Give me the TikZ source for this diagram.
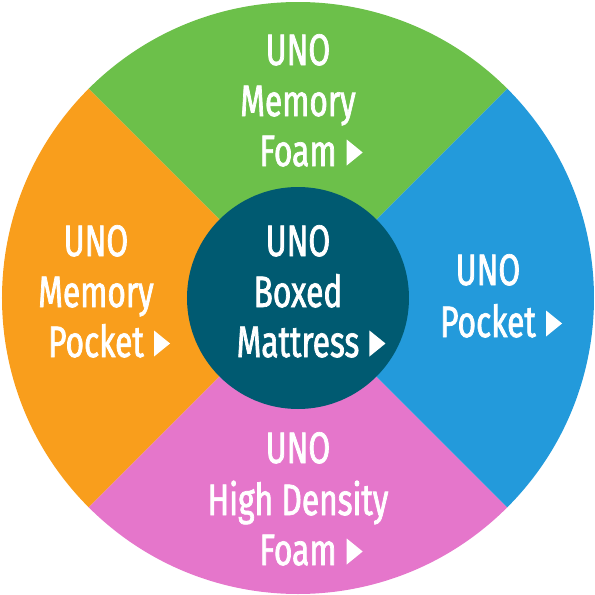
\documentclass[tikz,border=0pt]{standalone}
\usepackage{fontspec}
\setmainfont[FakeStretch=0.72,FakeBold=1.6]{Fira Sans}
\definecolor{cgreen}{HTML}{6CC04A}
\definecolor{corange}{HTML}{F99E1C}
\definecolor{cblue}{HTML}{239ADB}
\definecolor{cpink}{HTML}{E576CB}
\definecolor{cteal}{HTML}{005A71}
\tikzset{
  lbl/.style={anchor=base,inner sep=0pt,text=white,font=\fontsize{44}{50}\selectfont},
  tri/.style={fill=white},
}
\newcommand{\arrowtri}[1]{\fill[tri] ([xshift=10pt,yshift=0.5pt]#1.base east) -- ++(0,26) -- ++(16,-13) -- cycle;}
\begin{document}
\begin{tikzpicture}[x=1pt,y=1pt]
\useasboundingbox (-298,-297) rectangle (297,298);
\coordinate (c) at (0,0);
\fill[cgreen]  (c) -- (45:296) arc[start angle=45,end angle=135,radius=296] -- cycle;
\fill[corange] (c) -- (135:296) arc[start angle=135,end angle=225,radius=296] -- cycle;
\fill[cpink]   (c) -- (225:296) arc[start angle=225,end angle=315,radius=296] -- cycle;
\fill[cblue]   (c) -- (-45:296) arc[start angle=-45,end angle=45,radius=296] -- cycle;
\fill[cteal] (c) circle[radius=111];
% green
\node[lbl] (g1) at (0,233) {UNO};
\node[lbl] (g2) at (0,182) {Memory};
\node[lbl] (g3) at (0,132) {Foam};
\arrowtri{g3}
% orange
\node[lbl] (o1) at (-202,42) {UNO};
\node[lbl] (o2) at (-202,-9) {Memory};
\node[lbl] (o3) at (-202,-59) {Pocket};
\arrowtri{o3}
% center
\node[lbl] (m1) at (0,42) {UNO};
\node[lbl] (m2) at (0,-9) {Boxed};
\node[lbl] (m3) at (0,-59) {Mattress};
\arrowtri{m3}
% blue
\node[lbl] (b1) at (190,13) {UNO};
\node[lbl] (b2) at (190,-39) {Pocket};
\arrowtri{b2}
% pink
\node[lbl] (p1) at (0,-165) {UNO};
\node[lbl] (p2) at (0,-217) {High Density};
\node[lbl] (p3) at (0,-267) {Foam};
\arrowtri{p3}
\end{tikzpicture}
\end{document}
